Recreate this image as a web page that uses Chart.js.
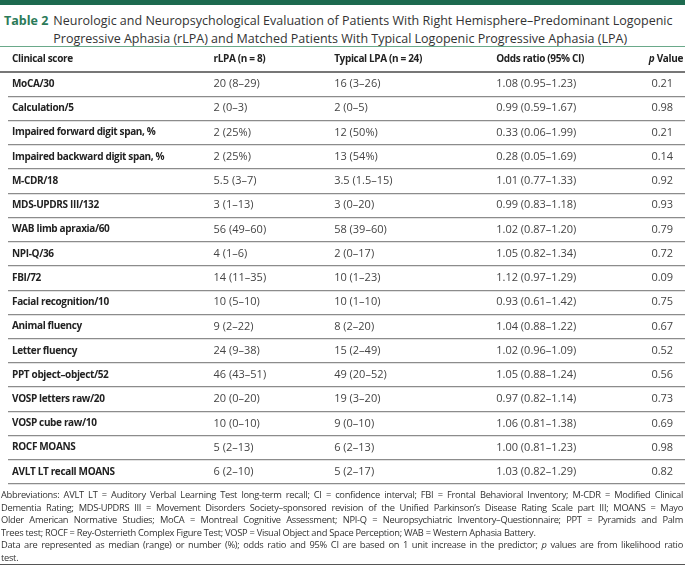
<!DOCTYPE html>
<html>
<head>
<meta charset="utf-8">
<script src="https://cdn.jsdelivr.net/npm/chart.js@4.4.1/dist/chart.umd.min.js"></script>
<style>
  html, body { margin: 0; padding: 0; background: #fff; }
  body { width: 685px; height: 566px; position: relative; overflow: hidden; font-family: "Open Sans", sans-serif; }
  #topbar { position: absolute; left: 0; top: 0; width: 685px; height: 5px; background: #1d6a4f; }
  #title { position: absolute; left: 4px; top: 12px; width: 680px; font-size: 12.5px; line-height: 18px; color: #333; display: flex; white-space: nowrap; }
  #title b { color: #2b7a58; margin-right: 5px; }
  #title .txt { width: 603px; }
  #title .l1 { text-align: justify; text-align-last: justify; }
  #wrap { position: absolute; left: 0; top: 46px; width: 685px; height: 448px; }
  #foot { position: absolute; left: 1px; top: 489px; width: 682px; font-size: 9.3px; letter-spacing: -0.28px; line-height: 12.6px; color: #333; white-space: nowrap; }
  #foot .j { text-align: justify; text-align-last: justify; }
  #bottomline { position: absolute; left: 0; top: 564px; width: 685px; height: 1px; background: #555; }
</style>
</head>
<body>
<div id="topbar"></div>
<div id="title"><b>Table 2</b><div class="txt"><div class="l1">Neurologic and Neuropsychological Evaluation of Patients With Right Hemisphere–Predominant Logopenic</div><div>Progressive Aphasia (rLPA) and Matched Patients With Typical Logopenic Progressive Aphasia (LPA)</div></div></div>
<div id="wrap"><canvas id="chart-canvas" width="685" height="448"></canvas></div>
<div id="foot">
<div class="j">Abbreviations: AVLT LT = Auditory Verbal Learning Test long-term recall; CI = confidence interval; FBI = Frontal Behavioral Inventory; M-CDR = Modified Clinical</div>
<div class="j">Dementia Rating; MDS-UPDRS III = Movement Disorders Society–sponsored revision of the Unified Parkinson’s Disease Rating Scale part III; MOANS = Mayo</div>
<div class="j">Older American Normative Studies; MoCA = Montreal Cognitive Assessment; NPI-Q = Neuropsychiatric Inventory–Questionnaire; PPT = Pyramids and Palm</div>
<div>Trees test; ROCF = Rey-Osterrieth Complex Figure Test; VOSP = Visual Object and Space Perception; WAB = Western Aphasia Battery.</div>
<div class="j">Data are represented as median (range) or number (%); odds ratio and 95% CI are based on 1 unit increase in the predictor; <i>p</i> values are from likelihood ratio</div>
<div>test.</div>
</div>
<div id="bottomline"></div>
<script>
// table content
var categories = ["MoCA/30", "Calculation/5", "Impaired forward digit span, %", "Impaired backward digit span, %", "M-CDR/18", "MDS-UPDRS III/132", "WAB limb apraxia/60", "NPI-Q/36", "FBI/72", "Facial recognition/10", "Animal fluency", "Letter fluency", "PPT object–object/52", "VOSP letters raw/20", "VOSP cube raw/10", "ROCF MOANS", "AVLT LT recall MOANS"];
var rlpa = ["20 (8–29)", "2 (0–3)", "2 (25%)", "2 (25%)", "5.5 (3–7)", "3 (1–13)", "56 (49–60)", "4 (1–6)", "14 (11–35)", "10 (5–10)", "9 (2–22)", "24 (9–38)", "46 (43–51)", "20 (0–20)", "10 (0–10)", "5 (2–13)", "6 (2–10)"];
var typical = ["16 (3–26)", "2 (0–5)", "12 (50%)", "13 (54%)", "3.5 (1.5–15)", "3 (0–20)", "58 (39–60)", "2 (0–17)", "10 (1–23)", "10 (1–10)", "8 (2–20)", "15 (2–49)", "49 (20–52)", "19 (3–20)", "9 (0–10)", "6 (2–13)", "5 (2–17)"];
var oddsRatio = ["1.08 (0.95–1.23)", "0.99 (0.59–1.67)", "0.33 (0.06–1.99)", "0.28 (0.05–1.69)", "1.01 (0.77–1.33)", "0.99 (0.83–1.18)", "1.02 (0.87–1.20)", "1.05 (0.82–1.34)", "1.12 (0.97–1.29)", "0.93 (0.61–1.42)", "1.04 (0.88–1.22)", "1.02 (0.96–1.09)", "1.05 (0.88–1.24)", "0.97 (0.82–1.14)", "1.06 (0.81–1.38)", "1.00 (0.81–1.23)", "1.03 (0.82–1.29)"];
var pValues = ["0.21", "0.98", "0.21", "0.14", "0.92", "0.93", "0.79", "0.72", "0.09", "0.75", "0.67", "0.52", "0.56", "0.73", "0.69", "0.98", "0.82"];
var columnHeads = ["Clinical score", "rLPA (n = 8)", "Typical LPA (n = 24)", "Odds ratio (95% CI)", "p Value"];

// where each column starts (x scale runs 0..685)
var colX = [4, 208, 330, 494, 651];

function cells(values, col) {
  var out = [];
  for (var i = 0; i < values.length; i++) {
    out.push({ x: colX[col], y: categories[i], t: values[i] });
  }
  return out;
}

var headFont = "bold 10px 'Open Sans'";
var tightSpacing = "-0.35px";

var tableText = {
  id: "tableText",
  beforeDraw: function (chart) {
    // bold labels in the source are set tight
    chart.ctx.letterSpacing = tightSpacing;
  },
  beforeDatasetsDraw: function (chart) {
    var ctx = chart.ctx, area = chart.chartArea, xs = chart.scales.x;
    ctx.save();
    // green rule above header
    ctx.fillStyle = "#6aa98a";
    ctx.fillRect(0, 0, chart.width, 1);
    // header
    ctx.fillStyle = "#222";
    ctx.textBaseline = "middle";
    ctx.letterSpacing = tightSpacing;
    var hy = area.top - 13;
    ctx.font = headFont;
    ctx.textAlign = "left";
    for (var c = 0; c < 4; c++) {
      ctx.fillText(columnHeads[c], xs.getPixelForValue(colX[c]), hy);
    }
    ctx.textAlign = "right";
    var rest = columnHeads[4].slice(1);
    ctx.fillText(rest, chart.width - 2, hy);
    var w = ctx.measureText(rest).width;
    ctx.font = "italic " + headFont;
    ctx.fillText(columnHeads[4].charAt(0), chart.width - 2 - w, hy);
    // thick rule under header
    ctx.fillStyle = "#777";
    ctx.fillRect(0, area.top - 1, chart.width, 2);
    ctx.restore();
  },
  afterDatasetsDraw: function (chart) {
    var ctx = chart.ctx;
    ctx.save();
    ctx.letterSpacing = "0px";
    ctx.font = "11px 'Open Sans'";
    ctx.fillStyle = "#444";
    ctx.textAlign = "left";
    ctx.textBaseline = "middle";
    chart.data.datasets.forEach(function (ds, i) {
      var meta = chart.getDatasetMeta(i);
      meta.data.forEach(function (pt, j) {
        ctx.fillText(ds.data[j].t, pt.x, pt.y);
      });
    });
    ctx.restore();
  },
  afterDraw: function (chart) {
    chart.ctx.letterSpacing = "0px";
  }
};

var ctx = document.getElementById("chart-canvas");
new Chart(ctx, {
  type: "scatter",
  data: {
    datasets: [
      { label: columnHeads[1], data: cells(rlpa, 1) },
      { label: columnHeads[2], data: cells(typical, 2) },
      { label: columnHeads[3], data: cells(oddsRatio, 3) },
      { label: columnHeads[4], data: cells(pValues, 4) }
    ]
  },
  options: {
    responsive: false,
    animation: false,
    events: [],
    layout: { padding: { top: 26, bottom: 0, left: 0, right: 0 } },
    elements: { point: { radius: 0, hoverRadius: 0 } },
    plugins: { legend: { display: false }, tooltip: { enabled: false } },
    scales: {
      x: { type: "linear", min: 0, max: 685, display: false },
      y: {
        type: "category",
        labels: categories,
        offset: true,
        border: { display: false },
        grid: { offset: true, drawTicks: false, color: "#8c8c8c", lineWidth: 1.2 },
        ticks: { mirror: true, padding: 4, color: "#222", font: { family: "Open Sans", size: 10, weight: "bold" } }
      }
    }
  },
  plugins: [tableText]
});
</script>
</body>
</html>
